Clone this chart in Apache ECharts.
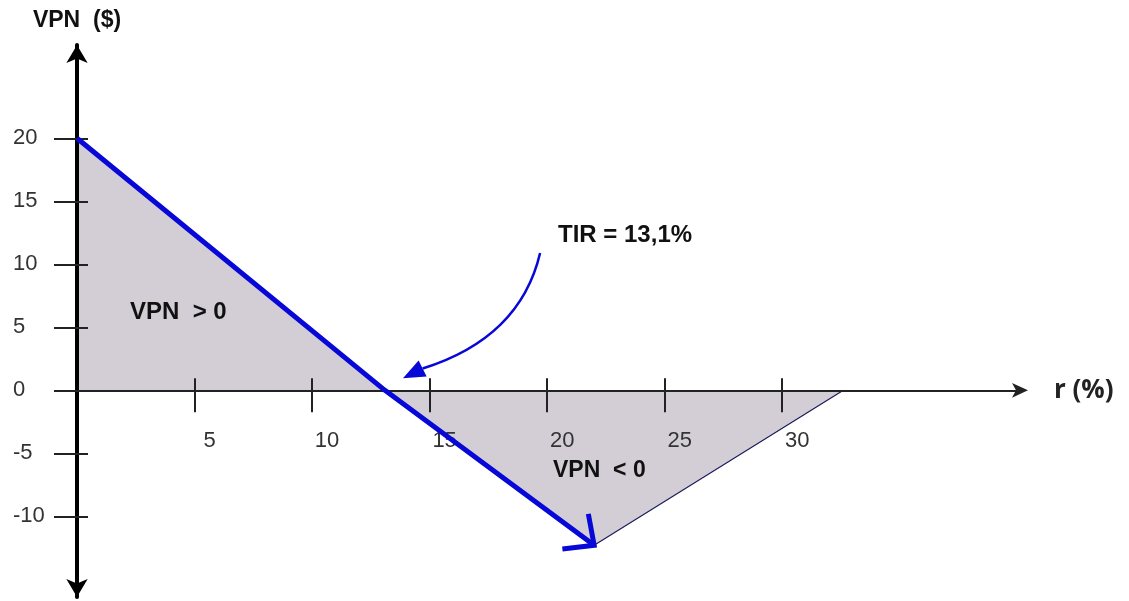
<!DOCTYPE html>
<html>
<head>
<meta charset="utf-8">
<script src="https://cdn.jsdelivr.net/npm/echarts@6/dist/echarts.min.js"></script>
<style>
  html, body { margin: 0; padding: 0; background: #fff; }
  #chart { width: 1129px; height: 601px; }
</style>
</head>
<body>
<div id="chart"></div>
<script>
// VPN profile vs discount rate r (%)
let vpnLine = [[0, 20], [13.1, 0], [22, -12.3]];
let positiveArea = [[0, 20], [13.1, 0]];
let negativeArea = [[13.1, 0], [22, -12.3], [32.6, 0]];
let tir = [13.1, 0];
let tirLabelAnchor = [19.7, 10.9];
let xTicks = [5, 10, 15, 20, 25, 30];
let yTicks = [-10, -5, 0, 5, 10, 15, 20];

const blue = '#0707d8';
const fill = '#d3ced6';
const font = 'Liberation Sans, Arial, sans-serif';

const xMin = 0, xMax = 40.2, yMin = -16.4, yMax = 27.4;
const gridTop = 45, gridBottom = 4;

let chart = echarts.init(document.getElementById('chart'));

// x axis: line + ticks on zero (outer part), inner tick part, and a labels-only axis
let xAxes = [
  {
    type: 'value', min: xMin, max: xMax, z: 4,
    splitLine: { show: false },
    axisLine: {
      onZero: true,
      lineStyle: { color: '#222', width: 2 },
      symbol: ['none', 'arrow'], symbolSize: [11, 16], symbolOffset: [0, 6]
    },
    axisTick: { inside: false, length: 22, customValues: xTicks, lineStyle: { color: '#222', width: 2 } },
    axisLabel: { show: false },
    name: 'r (%)', nameLocation: 'end', nameGap: 32,
    nameTextStyle: { fontSize: 26, fontWeight: 'bold', color: '#222', fontFamily: 'Open Sans, sans-serif' }
  },
  {
    type: 'value', min: xMin, max: xMax, z: 4, position: 'bottom',
    splitLine: { show: false },
    axisLine: { show: false, onZero: true },
    axisTick: { inside: true, length: 12, customValues: xTicks, lineStyle: { color: '#222', width: 2 } },
    axisLabel: { show: false }
  }
];

let chartH = 601 - gridTop - gridBottom;
let zeroFromBottom = chartH * (0 - yMin) / (yMax - yMin);
xAxes.push({
  type: 'value', min: xMin, max: xMax, z: 4, position: 'bottom',
  offset: -zeroFromBottom,
  splitLine: { show: false },
  axisLine: { show: false, onZero: false },
  axisTick: { show: false },
  axisLabel: {
    customValues: xTicks, margin: 40, padding: [0, 0, 0, 30],
    color: '#333', fontSize: 22, fontFamily: font
  }
});

function yAxisBase(inside, len, labels) {
  return {
    type: 'value', min: yMin, max: yMax, z: 4,
    position: 'left',
    splitLine: { show: false },
    axisLine: {
      show: labels, onZero: true,
      lineStyle: { color: '#000', width: 4 },
      symbol: ['arrow', 'arrow'], symbolSize: [16, 18], symbolOffset: [0, 0]
    },
    axisTick: { show: true, inside, length: len, customValues: yTicks, lineStyle: { color: '#222', width: 2 } },
    axisLabel: {
      show: labels, customValues: yTicks, margin: 64, align: 'left',
      color: '#333', fontSize: 22, fontFamily: font
    },
    name: labels ? 'VPN  ($)' : '',
    nameLocation: 'end', nameGap: 13,
    nameTextStyle: { fontSize: 23, fontWeight: 'bold', color: '#111', fontFamily: font }
  };
}

let options = {
  backgroundColor: '#ffffff',
  animation: false,
  grid: { left: 77, right: 107, top: gridTop, bottom: gridBottom, containLabel: false, outerBoundsMode: 'none' },
  xAxis: xAxes,
  yAxis: [yAxisBase(false, 23, true), yAxisBase(true, 11, false)],
  series: [
    {
      type: 'line', data: positiveArea, symbol: 'none',
      lineStyle: { width: 0 }, areaStyle: { color: fill, opacity: 1 }, z: 1
    },
    {
      type: 'line', data: negativeArea, symbol: 'none',
      lineStyle: { width: 1.2, color: '#1c1c5c' }, areaStyle: { color: fill, opacity: 1 }, z: 1
    },
    {
      type: 'line', data: vpnLine, symbol: 'none',
      lineStyle: { width: 5, color: blue }, z: 5
    },
    {
      // open arrow head at end of VPN line + curved TIR pointer
      type: 'custom', z: 6, data: [0],
      renderItem(params, api) {
        let n = vpnLine.length;
        let end = api.coord(vpnLine[n - 1]);
        let prev = api.coord(vpnLine[n - 2]);
        let ang = Math.atan2(prev[1] - end[1], prev[0] - end[0]);
        let barb = 32, spread = 0.75;
        let b1 = [end[0] + barb * Math.cos(ang + spread), end[1] + barb * Math.sin(ang + spread)];
        let b2 = [end[0] + barb * Math.cos(ang - spread), end[1] + barb * Math.sin(ang - spread)];

        let p = api.coord(tir);
        let tip = [p[0] + 18, p[1] - 12];
        let start = api.coord(tirLabelAnchor);
        let cp = [start[0] - 20, start[1] + 85];
        let head = 22, hw = 9;
        let dir = Math.atan2(20, -40);
        let dx = Math.cos(dir), dy = Math.sin(dir);
        let baseC = [tip[0] - dx * head, tip[1] - dy * head];
        return {
          type: 'group',
          children: [
            { type: 'polyline', shape: { points: [b1, end, b2] },
              style: { stroke: blue, lineWidth: 5, fill: null } },
            { type: 'bezierCurve',
              shape: { x1: start[0], y1: start[1], cpx1: cp[0], cpy1: cp[1], x2: baseC[0], y2: baseC[1] },
              style: { stroke: blue, lineWidth: 2.5, fill: null } },
            { type: 'polygon',
              shape: { points: [tip, [baseC[0] - dy * hw, baseC[1] + dx * hw], [baseC[0] + dy * hw, baseC[1] - dx * hw]] },
              style: { fill: blue } }
          ]
        };
      }
    }
  ],
  graphic: [
    { type: 'text', z: 20, left: 558, top: 223, style: { text: 'TIR = 13,1%', fontSize: 24, fontWeight: 'bold', fill: '#111', fontFamily: font } },
    { type: 'text', z: 20, left: 130, top: 300, style: { text: 'VPN  > 0', fontSize: 24, fontWeight: 'bold', fill: '#111', fontFamily: font } },
    { type: 'text', z: 20, left: 553, top: 459, style: { text: 'VPN  < 0', fontSize: 23, fontWeight: 'bold', fill: '#111', fontFamily: font } }
  ]
};

chart.setOption(options);
</script>
</body>
</html>
